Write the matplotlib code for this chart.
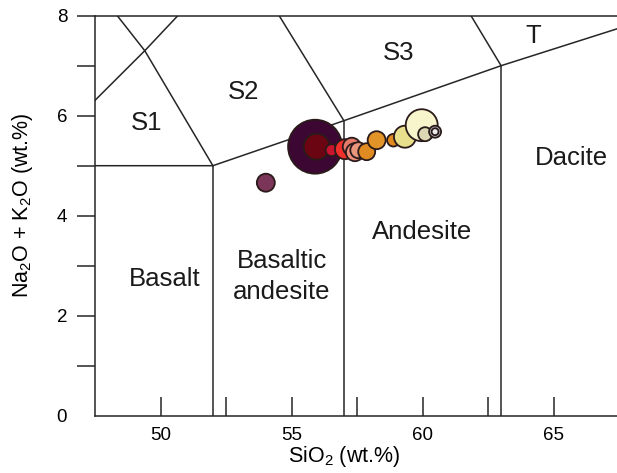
import numpy as np
import matplotlib
matplotlib.use('Agg')
import matplotlib.pyplot as plt

plt.rcParams['font.family'] = ['Liberation Sans', 'DejaVu Sans']
plt.rcParams['mathtext.fontset'] = 'custom'
plt.rcParams['mathtext.rm'] = 'Liberation Sans'
plt.rcParams['mathtext.it'] = 'Liberation Sans:italic'

# --- samples: SiO2, total alkali, bubble area, colour ---
sio2 = [54.02, 55.90, 55.96, 56.53, 57.04, 57.30, 57.42, 57.55, 57.87,
        58.25, 58.89, 59.33, 59.97, 60.10, 60.48, 60.48]
alkali = [4.66, 5.38, 5.38, 5.31, 5.33, 5.38, 5.27, 5.31, 5.28,
          5.51, 5.51, 5.58, 5.81, 5.63, 5.68, 5.68]
area = [81, 729, 169, 36, 100, 81, 81, 64, 72,
        81, 40, 121, 256, 49, 36, 12]
colours = ['#7a3558', '#3d0733', '#6b0512', '#c8142e', '#f0302a', '#e57a6a',
           '#ee8a78', '#e8967e', '#e08a22', '#e39428', '#e08a20', '#e8e08c',
           '#f8f5cc', '#dcd8b4', '#bdbdbd', '#ececec']

# --- TAS field boundaries (Le Bas et al. 1986) ---
boundaries = [
    [(45, 5), (52, 5), (57, 5.9), (63, 7), (69, 8)],
    [(52, 0), (52, 5)],
    [(57, 0), (57, 5.9)],
    [(63, 0), (63, 7)],
    [(45, 5), (49.4, 7.3), (53, 9.3)],
    [(52, 5), (49.4, 7.3), (47.9, 8.3)],
    [(57, 5.9), (53, 9.3)],
    [(63, 7), (57.6, 11.7)],
]
field_names = ['S1', 'S2', 'S3', 'T', 'Dacite', 'Andesite', 'Basalt', 'Basaltic\nandesite']
field_x = [49.47, 53.16, 59.1, 64.23, 65.7, 59.97, 50.17, 54.63]
field_y = [5.85, 6.48, 7.25, 7.59, 5.15, 3.67, 2.73, 2.79]

fig = plt.figure(figsize=(6.17, 4.73), dpi=100)
ax = fig.add_axes([95 / 617, 57.3 / 473, 524 / 617, 400 / 473])

line_col = '#262626'
for seg in boundaries:
    xs, ys = zip(*seg)
    ax.plot(xs, ys, color=line_col, lw=1.1, zorder=1)

for name, x, y in zip(field_names, field_x, field_y):
    ax.text(x, y, name, ha='center', va='center', fontsize=18.5,
            color='#1a1a1a', linespacing=1.35)

s = np.array(area) * 2.07
ax.scatter(sio2, alkali, s=s, c=colours, edgecolors='#2a1a1a',
           linewidths=1.3, zorder=3)

ax.set_xlim(47.5, 67.5)
ax.set_ylim(0, 8)
ax.spines['right'].set_visible(False)
for side in ['left', 'bottom', 'top']:
    ax.spines[side].set_color(line_col)
    ax.spines[side].set_linewidth(1.1)

ax.set_xticks([50, 55, 60, 65])
ax.set_xticks([52.5, 57.5, 62.5], minor=True)
ax.tick_params(axis='x', which='both', direction='in', length=13.5,
               width=1.1, color=line_col, labelsize=13.5, pad=8)
ax.set_yticks([0, 2, 4, 6, 8])
ax.set_yticks([1, 3, 5, 7], minor=True)
ax.tick_params(axis='y', which='both', direction='out', length=13,
               width=1.1, color=line_col, labelsize=13.5, pad=7)
ax.yaxis.get_major_ticks()[0].tick1line.set_visible(False)

ax.set_xlabel('SiO$_2$ (wt.%)', fontsize=15.5)
ax.xaxis.label.set_va('center')
ax.xaxis.set_label_coords(0.476, -0.103)
ax.set_ylabel('Na$_2$O + K$_2$O (wt.%)', fontsize=15.5)
ax.yaxis.label.set_va('center')
ax.yaxis.set_label_coords(-0.139, 0.527)

fig.savefig('out.png', dpi=100)
